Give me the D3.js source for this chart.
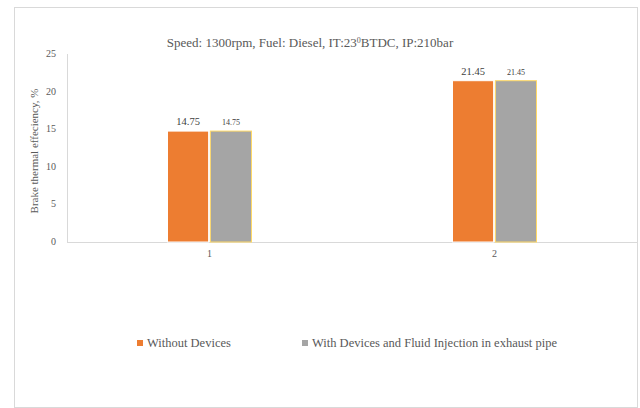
<!DOCTYPE html>
<html><head><meta charset="utf-8">
<script src="https://cdn.jsdelivr.net/npm/d3@7"></script>
<style>body{margin:0;background:#fff}svg{display:block}</style>
</head><body><svg id="c" width="640" height="408" font-family="'Liberation Serif', 'DejaVu Serif', 'Times New Roman', serif"></svg>
<script>
const categories = ["1", "2"];
const seriesNames = ["Without Devices", "With Devices and Fluid Injection in exhaust pipe"];
const withoutDevices = [14.75, 21.45];
const withDevices = [14.75, 21.45];
const yTicks = [0, 5, 10, 15, 20, 25];
const colors = ["#ED7D31", "#A5A5A5"];
const strokes = ["#ffffff", "#FFD966"];
const FONT = "'Liberation Serif', 'DejaVu Serif', serif";

const svg = d3.select("#c");
svg.append("rect").attr("x",14.5).attr("y",7.5).attr("width",623).attr("height",400).attr("fill","#fff").attr("stroke","#d9d9d9");

const x = d3.scaleBand().domain(categories).range([67, 637]);
const y = d3.scaleLinear().domain([0, 25]).range([242, 54]);
const inner = d3.scaleBand().domain([0,1]).range([0, 84]).paddingInner(0.04);

svg.append("line").attr("x1",67.5).attr("x2",67.5).attr("y1",54).attr("y2",242).attr("stroke","#d9d9d9");
svg.append("line").attr("x1",67).attr("x2",637).attr("y1",242.5).attr("y2",242.5).attr("stroke","#d9d9d9");
svg.selectAll(".yt").data(yTicks).enter().append("text").attr("font-family",FONT)
  .attr("x",56).attr("y",d=>y(d)+3).attr("text-anchor","end").attr("font-size",10).attr("fill","#595959").text(d=>d);
svg.selectAll(".xt").data(categories).enter().append("text").attr("font-family",FONT)
  .attr("x",d=>x(d)+x.bandwidth()/2).attr("y",257).attr("text-anchor","middle").attr("font-size",10).attr("fill","#595959").text(d=>d);

const series = [withoutDevices, withDevices];
series.forEach((vals, si) => {
  const g = svg.append("g");
  g.selectAll("rect").data(vals).enter().append("rect")
    .attr("x",(d,i)=>x(categories[i])+x.bandwidth()/2-42+inner(si))
    .attr("y",d=>y(d)).attr("width",inner.bandwidth()).attr("height",d=>y(0)-y(d))
    .attr("fill",colors[si]).attr("stroke",strokes[si]).attr("stroke-width",1);
  g.selectAll("text").data(vals).enter().append("text").attr("font-family",FONT)
    .attr("x",(d,i)=>x(categories[i])+x.bandwidth()/2-42+inner(si)+inner.bandwidth()/2)
    .attr("y",d=>y(d)-6).attr("text-anchor","middle").attr("font-size",si===0?10.5:8).attr("fill","#404040")
    .text(d=>d.toFixed(2));
});

svg.append("text").attr("font-family",FONT).attr("x",310).attr("y",47).attr("text-anchor","middle").attr("font-size",13).attr("fill","#595959")
  .html('Speed: 1300rpm, Fuel: Diesel, IT:23<tspan dy="-4" font-size="8">0</tspan><tspan dy="4">BTDC, IP:210bar</tspan>');
svg.append("text").attr("font-family",FONT).attr("transform","translate(38,151) rotate(-90)").attr("text-anchor","middle").attr("font-size",11).attr("fill","#595959")
  .text("Brake thermal effeciency, %");

const lx = [137, 302];
seriesNames.forEach((n,i)=>{
  svg.append("rect").attr("x",lx[i]).attr("y",340).attr("width",6).attr("height",6).attr("fill",colors[i]);
  svg.append("text").attr("font-family",FONT).attr("x",lx[i]+10).attr("y",347).attr("font-size",12.5).attr("fill","#595959").text(n);
});
</script></body></html>
